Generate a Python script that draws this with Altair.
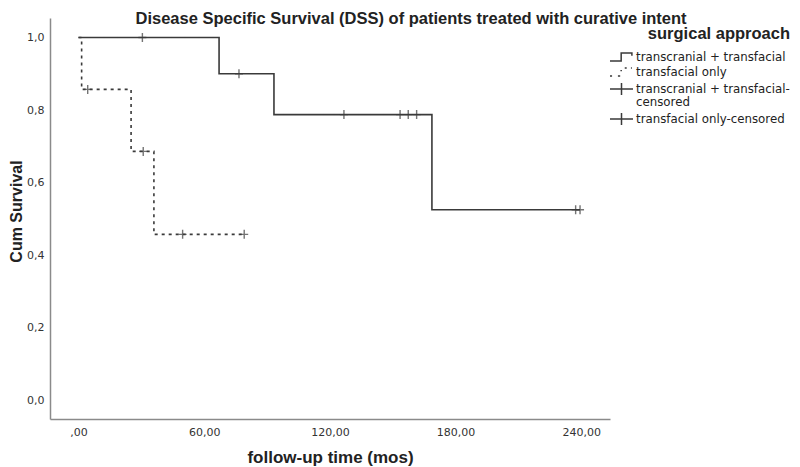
import altair as alt
import pandas as pd

# ---- data ----
groups = ["transcranial + transfacial", "transfacial only"]

tt_time = [0.0, 67.1, 93.3, 168.7, 239.4]
tt_surv = [1.0, 0.9, 0.7875, 0.525, 0.525]

tf_time = [0.0, 1.5, 25.1, 36.0, 79.1]
tf_surv = [1.0, 0.857, 0.686, 0.457, 0.457]

tt_cens_time = [30.5, 76.6, 126.7, 153.5, 157.4, 161.4, 237.3, 239.4]
tt_cens_surv = [1.0, 0.9, 0.7875, 0.7875, 0.7875, 0.7875, 0.525, 0.525]

tf_cens_time = [4.4, 30.9, 49.7, 79.1]
tf_cens_surv = [0.857, 0.686, 0.457, 0.457]

legend_keys = [
    "transcranial + transfacial",
    "transfacial only",
    "transcranial + transfacial-censored",
    "transfacial only-censored",
]

x_ticks = [0, 60, 120, 180, 240]
y_ticks = [0.0, 0.2, 0.4, 0.6, 0.8, 1.0]

INK = "#3a3a3a"
TXT = "#222222"
BOLD = "Liberation Sans"
REG = "DejaVu Sans"

curves = pd.concat([
    pd.DataFrame({"time": tt_time, "surv": tt_surv, "group": groups[0]}),
    pd.DataFrame({"time": tf_time, "surv": tf_surv, "group": groups[1]}),
])
cens = pd.concat([
    pd.DataFrame({"time": tt_cens_time, "surv": tt_cens_surv, "group": groups[0]}),
    pd.DataFrame({"time": tf_cens_time, "surv": tf_cens_surv, "group": groups[1]}),
])
leg = pd.DataFrame({"key": legend_keys})

xscale = alt.Scale(domain=[-13.6, 253.7], nice=False, zero=False)
yscale = alt.Scale(domain=[-0.0524, 1.054], nice=False, zero=False)

xaxis = alt.Axis(
    values=x_ticks, title="follow-up time (mos)", grid=False, ticks=False,
    labelExpr="datum.value == 0 ? ',00' : replace(format(datum.value, '.2f'), '.', ',')",
    labelPadding=7, titlePadding=12,
)
yaxis = alt.Axis(
    values=y_ticks, title="Cum Survival", grid=False, ticks=False,
    labelExpr="replace(format(datum.value, '.1f'), '.', ',')",
    labelPadding=6, titlePadding=2, titleY=193,
)

lines = alt.Chart(curves).mark_line(interpolate="step-after", color=INK, strokeWidth=1.6).encode(
    x=alt.X("time:Q", scale=xscale, axis=xaxis),
    y=alt.Y("surv:Q", scale=yscale, axis=yaxis),
    strokeDash=alt.StrokeDash("group:N", scale=alt.Scale(domain=groups, range=[[1, 0], [3, 4]]), legend=None),
    detail="group:N",
)

cross = "M-0.8,0L0.8,0M0,-0.9L0,0.9"
censor = alt.Chart(cens).mark_point(shape=cross, size=100, color=INK, filled=False, strokeWidth=1.4).encode(
    x=alt.X("time:Q", scale=xscale),
    y=alt.Y("surv:Q", scale=yscale),
)

step_solid = "M-1.77,0.62L-0.05,0.62L-0.05,-0.62L1.6,-0.62L1.6,-0.2"
step_dash = "M-1.77,0.62L-1.45,0.62M-0.55,0.62L-0.2,0.62M-0.05,-0.1L-0.05,-0.3M0.5,-0.62L0.8,-0.62M1.45,-0.62L1.6,-0.62"
leg_cross = "M-1.77,0L1.77,0M0,-0.92L0,0.92"
legend_paths = [step_solid, step_dash, leg_cross, leg_cross]

legend_layer = alt.Chart(leg).mark_point(filled=False, strokeOpacity=0, fillOpacity=0, color=INK).encode(
    shape=alt.Shape(
        "key:N",
        scale=alt.Scale(domain=legend_keys, range=legend_paths),
        legend=alt.Legend(
            title="surgical approach",
            orient="none", legendX=564, legendY=8,
            padding=0,
            titleFont=BOLD, titleFontSize=16.5, titleFontWeight="bold", titleColor=TXT,
            titleAnchor="end", titlePadding=7,
            labelFont=REG, labelFontSize=11.8, labelColor=TXT, labelLimit=400,
            labelOffset=7,
            labelExpr="datum.label == 'transcranial + transfacial-censored' ? ['transcranial + transfacial-', 'censored'] : datum.label",
            symbolSize=169, symbolStrokeWidth=1.5, symbolStrokeColor=INK,
            symbolFillColor="transparent", symbolOpacity=1,
            rowPadding=0,
        ),
    ),
)

chart = alt.layer(lines, censor, legend_layer).properties(
    width=560, height=401,
    autosize=alt.AutoSizeParams(type="none"),
    padding={"left": 42, "top": 10, "right": 182, "bottom": 50},
    title=alt.TitleParams(
        "Disease Specific Survival (DSS) of patients treated with curative intent",
        anchor="start", dx=127, offset=0, dy=22, baseline="alphabetic",
        font=BOLD, fontSize=16.5, fontWeight="bold", color=TXT,
    ),
).configure(
    style={"guide-label": {"lineHeight": 13}}
).configure_view(stroke=None).configure_axis(
    domainColor="#8a8a8a", domainWidth=1.5,
    labelFont=REG, labelFontSize=11, labelColor="#333333",
    titleFont=BOLD, titleFontWeight="bold", titleColor=TXT,
).configure_axisX(titleFontSize=17).configure_axisY(titleFontSize=16)

chart.save("out.html", embed_options={"renderer": "svg", "actions": False})
